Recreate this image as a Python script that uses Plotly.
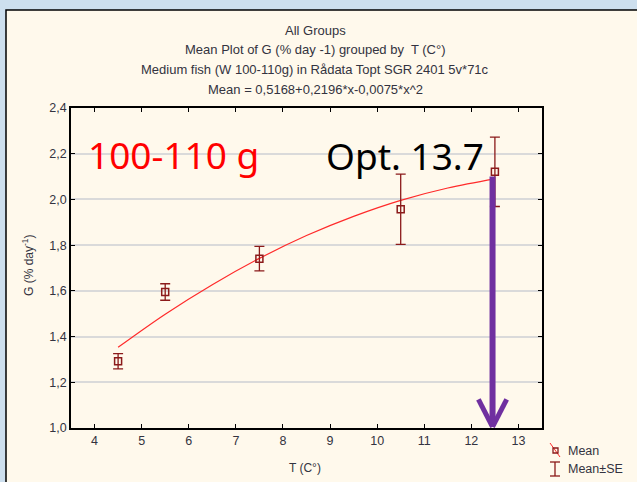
import plotly.graph_objects as go

# ---------------- data ----------------
T = [4.5, 5.5, 7.5, 10.5, 12.5]
G_mean = [1.292, 1.595, 1.741, 1.957, 2.121]
G_se = [0.033, 0.036, 0.054, 0.154, 0.152]

fit_T = [4.5, 5.5, 6.5, 7.5, 8.5, 9.5, 10.5, 11.5, 12.5]
fit_G = [1.353, 1.498, 1.627, 1.742, 1.842, 1.926, 1.996, 2.050, 2.090]

opt_T = 12.45
opt_top = 2.10
opt_bottom = 1.0

x_ticks = [4, 5, 6, 7, 8, 9, 10, 11, 12, 13]
y_ticks = [1.0, 1.2, 1.4, 1.6, 1.8, 2.0, 2.2, 2.4]
y_ticktext = ["1,0", "1,2", "1,4", "1,6", "1,8", "2,0", "2,2", "2,4"]

title_lines = [
    "All Groups",
    "Mean Plot of G (% day -1) grouped by  T (C°)",
    "Medium fish (W 100-110g) in Rådata Topt SGR 2401 5v*71c",
    "Mean = 0,5168+0,2196*x-0,0075*x^2",
]

# ---------------- layout geometry ----------------
W, H = 637, 482
L, R, TOP, BOT = 71, 542, 108, 428
PW, PH = R - L, BOT - TOP


def px(x):
    return (x - L) / PW


def py(y):
    return (BOT - y) / PH


DARKRED = "#8b1a1a"
TXT = "#333340"
FONT = "Liberation Sans, Arial, sans-serif"

fig = go.Figure()

fig.add_trace(go.Scatter(
    x=fit_T, y=fit_G, mode="lines", line=dict(color="#ff2a2a", width=1.2, shape="spline"),
    showlegend=False, hoverinfo="skip"))

fig.add_trace(go.Scatter(
    x=T, y=G_mean, mode="markers",
    marker=dict(symbol="square-open", size=7, color=DARKRED, line=dict(width=1.5, color=DARKRED)),
    error_y=dict(type="data", array=G_se, color=DARKRED, thickness=1.3, width=5),
    showlegend=False))

shapes = []
# background panel
shapes.append(dict(type="rect", xref="paper", yref="paper", x0=px(6), x1=px(700), y0=py(10), y1=py(520),
                   fillcolor="#fff9ec", line=dict(color="black", width=1.5), layer="below"))
# purple arrow
PURPLE = "#7030a0"
shapes.append(dict(type="line", xref="x", yref="y", x0=opt_T, x1=opt_T, y0=opt_top, y1=opt_bottom + 0.01,
                   line=dict(color=PURPLE, width=6)))
shapes.append(dict(type="line", xref="x", yref="y", x0=opt_T - 0.30, x1=opt_T, y0=opt_bottom + 0.125,
                   y1=opt_bottom + 0.005, line=dict(color=PURPLE, width=5)))
shapes.append(dict(type="line", xref="x", yref="y", x0=opt_T + 0.30, x1=opt_T, y0=opt_bottom + 0.125,
                   y1=opt_bottom + 0.005, line=dict(color=PURPLE, width=5)))
# legend icons
shapes.append(dict(type="line", xref="paper", yref="paper", x0=px(550), x1=px(560), y0=py(443), y1=py(457),
                   line=dict(color="#ff2a2a", width=1)))
shapes.append(dict(type="rect", xref="paper", yref="paper", x0=px(553), x1=px(558), y0=py(448), y1=py(453),
                   line=dict(color=DARKRED, width=1.3)))
shapes.append(dict(type="line", xref="paper", yref="paper", x0=px(555), x1=px(555), y0=py(462), y1=py(476),
                   line=dict(color=DARKRED, width=1.3)))
shapes.append(dict(type="line", xref="paper", yref="paper", x0=px(550), x1=px(560), y0=py(462), y1=py(462),
                   line=dict(color=DARKRED, width=1.3)))
shapes.append(dict(type="line", xref="paper", yref="paper", x0=px(550), x1=px(560), y0=py(476), y1=py(476),
                   line=dict(color=DARKRED, width=1.3)))

annotations = []
for line, ypix in zip(title_lines, [30, 49, 69, 89]):
    annotations.append(dict(text=line, xref="paper", yref="paper", x=px(315), y=py(ypix),
                            showarrow=False, xanchor="center", yanchor="middle",
                            font=dict(family=FONT, size=13, color=TXT)))
annotations.append(dict(text="100-110 g", xref="paper", yref="paper", x=px(86), y=py(154),
                        showarrow=False, xanchor="left", yanchor="middle",
                        font=dict(family="Noto Sans, sans-serif", size=37, color="#ff0000")))
annotations.append(dict(text="Opt. 13.7", xref="paper", yref="paper", x=px(324), y=py(155),
                        showarrow=False, xanchor="left", yanchor="middle",
                        font=dict(family="Noto Sans, sans-serif", size=37, color="#000000")))
annotations.append(dict(text="T (C°)", xref="paper", yref="paper", x=px(305), y=py(468),
                        showarrow=False, xanchor="center", yanchor="middle",
                        font=dict(family=FONT, size=12, color=TXT)))
annotations.append(dict(text="G (% day<sup>-1</sup>)", xref="paper", yref="paper", x=px(28), y=py(266),
                        showarrow=False, xanchor="center", yanchor="middle", textangle=-90,
                        font=dict(family=FONT, size=12, color=TXT)))
annotations.append(dict(text="Mean", xref="paper", yref="paper", x=px(566), y=py(451),
                        showarrow=False, xanchor="left", yanchor="middle",
                        font=dict(family=FONT, size=12.5, color=TXT)))
annotations.append(dict(text="Mean±SE", xref="paper", yref="paper", x=px(566), y=py(469),
                        showarrow=False, xanchor="left", yanchor="middle",
                        font=dict(family=FONT, size=12.5, color=TXT)))

fig.update_layout(
    width=W, height=H,
    margin=dict(l=L, r=W - R, t=TOP, b=H - BOT, pad=0),
    paper_bgcolor="#cddfee",
    plot_bgcolor="white",
    shapes=shapes,
    annotations=annotations,
    showlegend=False,
    xaxis=dict(range=[3.5, 13.5], tickvals=x_ticks, ticks="inside", ticklen=4, tickcolor="black",
               showline=True, linecolor="black", linewidth=1.5, mirror="ticks", showgrid=False,
               zeroline=False, tickfont=dict(family=FONT, size=12.5, color=TXT)),
    yaxis=dict(range=[1.0, 2.4], tickvals=y_ticks, ticktext=y_ticktext, ticks="inside", ticklen=4,
               tickcolor="black", showline=True, linecolor="black", linewidth=1.5, mirror="ticks",
               showgrid=True, gridcolor="#dadada", gridwidth=1.5, zeroline=False,
               tickfont=dict(family=FONT, size=12.5, color=TXT)),
)

fig.write_html("out.html")
